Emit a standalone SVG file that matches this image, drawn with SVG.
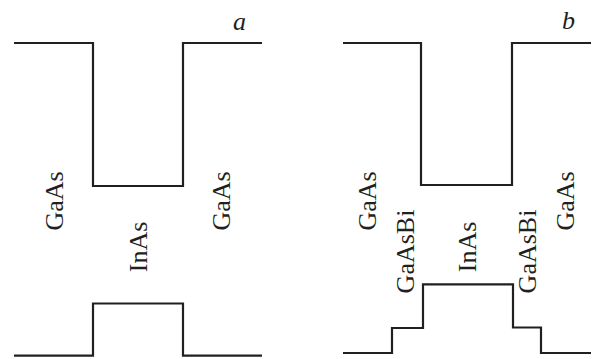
<svg xmlns="http://www.w3.org/2000/svg" width="592" height="359" viewBox="0 0 592 359">
<style>
.ln{fill:none;stroke:#231f20;stroke-width:2.2;stroke-linejoin:miter;stroke-linecap:butt}
.lb{font-family:"Liberation Serif","Times New Roman",serif;font-size:26px;fill:#231f20;text-anchor:middle}
.pl{font-family:"Liberation Serif","Times New Roman",serif;font-size:26px;font-style:italic;fill:#231f20}
</style>
<rect width="592" height="359" fill="#ffffff"/>
<g id="connectors">
<path id="a-cb" class="ln" d="M14,43 H93 V186 H183 V43 H262"/>
<path id="a-vb" class="ln" d="M14,355.7 H93 V303.5 H183 V355.7 H262"/>
<path id="b-cb" class="ln" d="M343,43 H421 V185 H512 V43 H591"/>
<path id="b-vb" class="ln" d="M343,353 H392 V328 H423 V284.3 H513 V327.5 H541 V353 H591"/>
</g>
<g id="panel-a">
<text class="pl" x="233" y="30">a</text>
<g id="a-gaas-left"><text class="lb" transform="translate(63,201) rotate(-90)">GaAs</text></g>
<g id="a-inas"><text class="lb" transform="translate(147,247) rotate(-90)">InAs</text></g>
<g id="a-gaas-right"><text class="lb" transform="translate(230,201) rotate(-90)">GaAs</text></g>
</g>
<g id="panel-b">
<text class="pl" x="562" y="29">b</text>
<g id="b-gaas-left"><text class="lb" transform="translate(376,201) rotate(-90)">GaAs</text></g>
<g id="b-gaasbi-left"><text class="lb" transform="translate(414,251.5) rotate(-90)">GaAsBi</text></g>
<g id="b-inas"><text class="lb" transform="translate(476,247) rotate(-90)">InAs</text></g>
<g id="b-gaasbi-right"><text class="lb" transform="translate(536,251.5) rotate(-90)">GaAsBi</text></g>
<g id="b-gaas-right"><text class="lb" transform="translate(574,201) rotate(-90)">GaAs</text></g>
</g>
</svg>
